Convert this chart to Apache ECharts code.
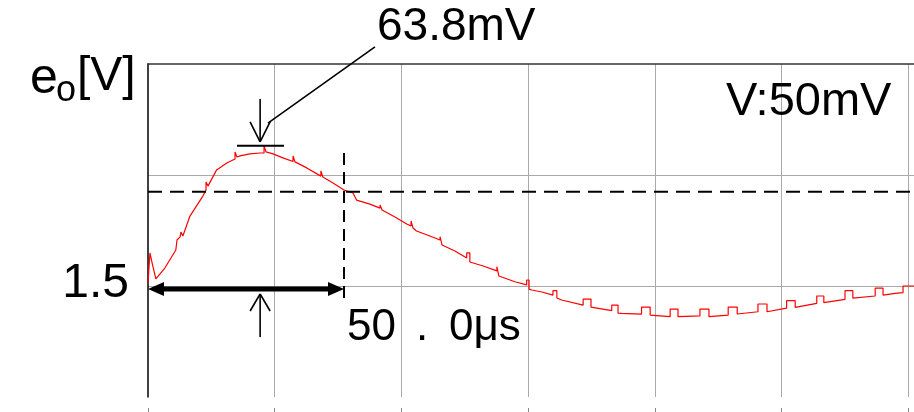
<!DOCTYPE html>
<html><head><meta charset="utf-8">
<script src="https://cdn.jsdelivr.net/npm/echarts@6/dist/echarts.min.js"></script>
<style>html,body{margin:0;padding:0;background:#fff}#c{width:914px;height:412px}</style>
</head><body><div id="c"></div>
<script>
// time in microseconds
const timeUs = [0,0.5,1.0,2.0,4.3,7.1,7.4,8.2,8.4,8.9,
10.7,14.0,14.8,14.8,15.3,15.3,
17.5,20.1,22.2,22.2,22.7,22.7,
23.5,26.0,28.6,29.6,29.6,30.1,30.1,
31.9,34.4,37.0,37.0,37.5,37.5,
40.5,44.1,44.1,44.6,44.6,
47.2,50.0,52.3,53.2,56.6,
59.2,59.2,59.7,59.7,
63.0,66.0,67.1,67.1,67.6,67.6,
68.5,71.9,74.5,74.5,75.0,75.0,
78.3,81.3,81.3,82.1,82.1,
85.5,89.0,89.0,89.5,89.5,
93.6,96.6,96.6,97.2,97.2,
97.9,100.5,103.3,103.3,104.3,104.3,
105.5,111.0,111.0,113.0,113.0,
113.5,118.3,118.3,119.9,119.9,
120.8,125.9,125.9,128.1,128.1,
133.2,133.2,135.2,135.2,
140.8,140.8,143.1,143.1,
148.0,148.0,150.3,150.3,
155.6,155.6,157.9,157.9,
162.9,162.9,165.1,165.1,
170.6,170.6,172.4,172.4,
177.8,177.8,179.8,179.8,
185.5,185.5,187.5,187.5,
190.6,192.6,192.6,195.4];
// output voltage e_o in volts
const voltV = [1.5014,1.5149,1.5108,1.5032,1.5081,1.5162,1.5207,1.5221,1.5243,1.5225,
1.5315,1.5405,1.5432,1.5468,1.5468,1.5450,
1.5523,1.5554,1.5572,1.5604,1.5604,1.5581,
1.5586,1.5595,1.5599,1.5599,1.5631,1.5631,1.5604,
1.5595,1.5577,1.5561,1.5586,1.5586,1.5559,
1.5532,1.5495,1.5518,1.5518,1.5491,
1.5464,1.5432,1.5419,1.5387,1.5369,
1.5351,1.5365,1.5365,1.5342,
1.5311,1.5279,1.5270,1.5293,1.5293,1.5261,
1.5248,1.5225,1.5207,1.5222,1.5222,1.5185,
1.5158,1.5126,1.5149,1.5149,1.5108,
1.5090,1.5068,1.5087,1.5087,1.5045,
1.5019,1.5005,1.5027,1.5027,1.4986,
1.4982,1.4973,1.4959,1.4979,1.4979,1.4946,
1.4937,1.4914,1.4941,1.4941,1.4905,
1.4900,1.4889,1.4914,1.4914,1.4878,
1.4877,1.4873,1.4905,1.4905,1.4869,
1.4862,1.4896,1.4896,1.4862,
1.4865,1.4896,1.4896,1.4862,
1.4869,1.4905,1.4905,1.4874,
1.4884,1.4919,1.4919,1.4884,
1.4900,1.4934,1.4934,1.4904,
1.4922,1.4955,1.4955,1.4925,
1.4940,1.4979,1.4979,1.4945,
1.4955,1.4990,1.4990,1.4959,
1.4967,1.4970,1.5000,1.5000];

// axis settings (values)
const timeMin = 0, timeMax = 195.4, timeDiv = 32.32;
const voltMin = 1.45, voltMax = 1.6, voltDiv = 0.05;

// annotation values
const markerTime = 50.0;          // 50.0 μs marker
const crossLevel = 1.5425;        // dashed horizontal level
const baseLevel = 1.4986;         // double arrow level
const peakLevel = 1.5632;         // 63.8 mV peak bar
const peakBarTimes = [22.7, 34.7];
const arrowTime = 28.6;
const downArrowVolts = [1.5842, 1.5649];
const upArrowVolts = [1.4770, 1.4964];
const vDashVolts = [1.5599, 1.4937];
const leaderStart = [30.6, 1.5734];
const leaderEnd = [57.9, 1.6077];

// texts
const peakText = '63.8mV';
const scaleText = 'V:50mV';
const yTickText = '1.5';
const yNameMain = 'e', yNameSub = 'o', yNameUnit = '[V]';
const timeTextParts = ['50', '.', '0μs'];

const FONT = '"Liberation Sans", Arial, sans-serif';
const gridColor = '#a9a9a9';

const chart = echarts.init(document.getElementById('c'), null, {renderer: 'canvas'});
const data = timeUs.map((t, i) => [t, voltV[i]]);

const baseX = {
  type: 'value', min: timeMin, max: timeMax, interval: timeDiv,
  axisLabel: {show: false}, splitLine: {show: false},
  axisTick: {show: false}, axisLine: {show: false}
};

chart.setOption({
  animation: false,
  backgroundColor: '#ffffff',
  grid: {left: 148, top: 64, right: 0, bottom: 15, containLabel: false},
  xAxis: [
    Object.assign({}, baseX, {
      splitLine: {show: true, lineStyle: {width: 1, color: ['transparent', gridColor, gridColor, gridColor, gridColor, gridColor, gridColor, 'transparent']}}
    }),
    Object.assign({}, baseX, {
      position: 'top',
      axisLine: {show: true, onZero: false, lineStyle: {color: '#333', width: 1.5}}
    }),
    Object.assign({}, baseX, {
      position: 'bottom', offset: 11,
      axisTick: {show: true, inside: false, length: 5, lineStyle: {color: '#888', width: 1}}
    })
  ],
  yAxis: {
    type: 'value', min: voltMin, max: voltMax, interval: voltDiv,
    axisLine: {show: true, onZero: false, lineStyle: {color: '#000', width: 1.5}},
    axisTick: {show: false}, axisLabel: {show: false},
    splitLine: {show: true, lineStyle: {width: 1, color: ['transparent', gridColor, gridColor, 'transparent']}}
  },
  series: [{
    type: 'line', xAxisIndex: 0, yAxisIndex: 0, data: data,
    showSymbol: false, symbol: 'none', z: 3,
    lineStyle: {color: '#ff0000', width: 1.2}
  }]
});

const P = (t, v) => chart.convertToPixel({xAxisIndex: 0, yAxisIndex: 0}, [t, v]);

const g = [];
function line(a, b, w, dash) {
  g.push({type: 'line', z: 10, shape: {x1: a[0], y1: a[1], x2: b[0], y2: b[1]},
    style: {stroke: '#000', lineWidth: w, lineDash: dash || null}});
}
function poly(pts) {
  g.push({type: 'polygon', z: 10, shape: {points: pts}, style: {fill: '#000'}});
}
function text(x, y, s, size, align) {
  g.push({type: 'text', z: 12, x: x, y: y,
    style: {text: s, font: size + 'px ' + FONT, fill: '#000', align: align || 'left', verticalAlign: 'middle'}});
}

// dashed horizontal level
line(P(timeMin, crossLevel), P(timeMax, crossLevel), 2, [14, 8]);
// dashed vertical marker at 50 us
line(P(markerTime, vDashVolts[0]), P(markerTime, vDashVolts[1]), 2, [12, 7]);
// double arrow
const a0 = P(timeMin, baseLevel), a1 = P(markerTime, baseLevel);
line([a0[0] + 12, a0[1]], [a1[0] - 12, a1[1]], 5);
poly([[a0[0], a0[1]], [a0[0] + 16, a0[1] - 7], [a0[0] + 16, a0[1] + 7]]);
poly([[a1[0], a1[1]], [a1[0] - 16, a1[1] - 7], [a1[0] - 16, a1[1] + 7]]);
// peak bar
line(P(peakBarTimes[0], peakLevel), P(peakBarTimes[1], peakLevel), 2);
// down arrow
const d0 = P(arrowTime, downArrowVolts[0]), d1 = P(arrowTime, downArrowVolts[1]);
line(d0, d1, 1.6);
line([d1[0] - 10, d1[1] - 20], d1, 1.6);
line([d1[0] + 10, d1[1] - 20], d1, 1.6);
// up arrow
const u0 = P(arrowTime, upArrowVolts[0]), u1 = P(arrowTime, upArrowVolts[1]);
line(u0, u1, 1.6);
line([u1[0] - 10, u1[1] + 17], u1, 1.6);
line([u1[0] + 10, u1[1] + 17], u1, 1.6);
// leader line
line(P(leaderStart[0], leaderStart[1]), P(leaderEnd[0], leaderEnd[1]), 1.6);

// texts
text(377, 27, peakText, 46);
text(726, 102, scaleText, 47);
text(129, 284, yTickText, 48, 'right');
text(30, 79, yNameMain, 50);
text(56, 91, yNameSub, 36);
text(77, 77, yNameUnit, 48);
text(347, 328, timeTextParts[0], 44);
text(416, 328, timeTextParts[1], 44);
text(449, 328, timeTextParts[2], 44);

chart.setOption({graphic: g});
</script>
</body></html>
